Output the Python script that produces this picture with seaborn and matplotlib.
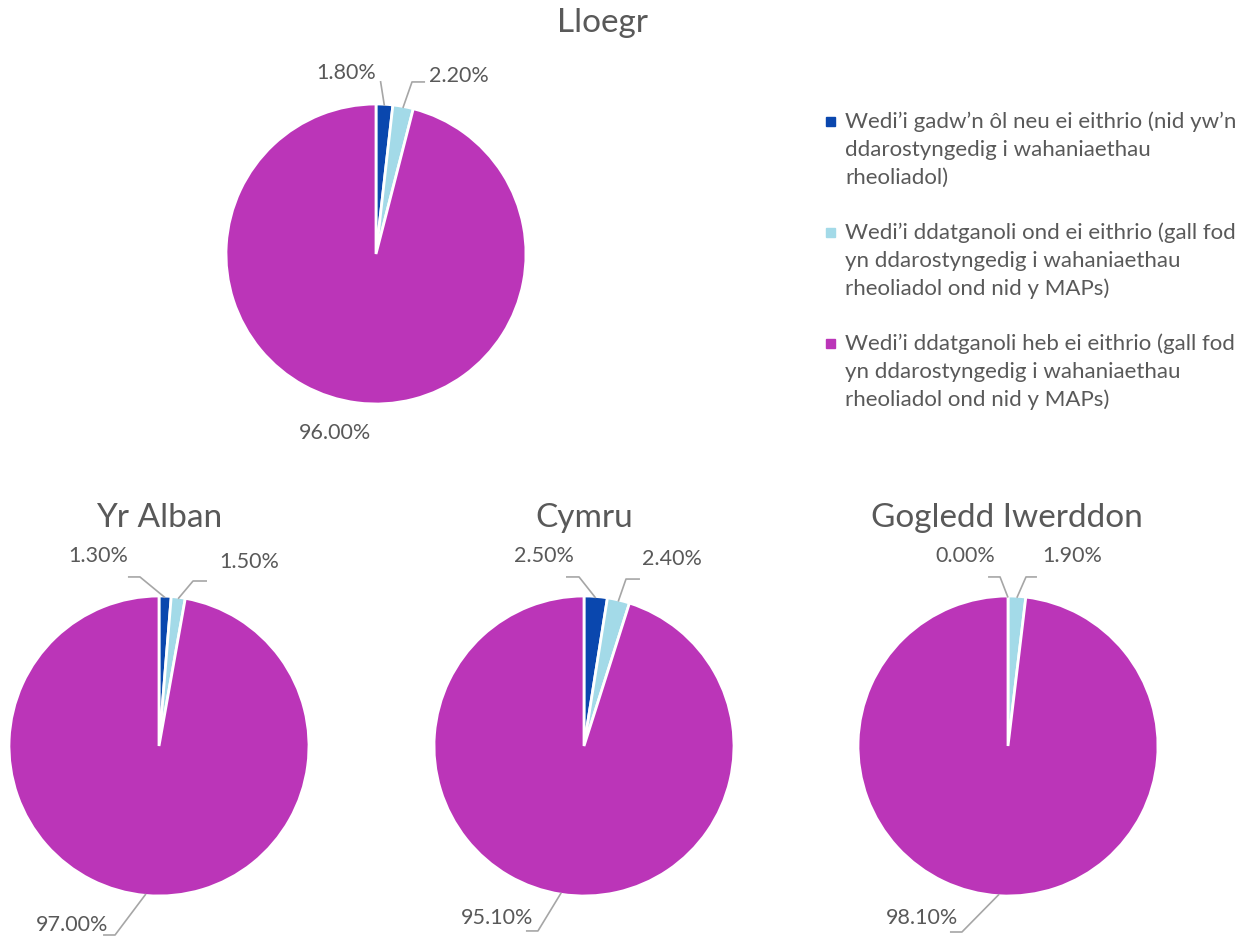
import numpy as np
import matplotlib
matplotlib.use("Agg")
import matplotlib.pyplot as plt
from matplotlib.patches import Rectangle
import seaborn as sns

# data
regions = ["Lloegr", "Yr Alban", "Cymru", "Gogledd Iwerddon"]
categories = [
    "Wedi’i gadw’n ôl neu ei eithrio (nid yw’n\nddarostyngedig i wahaniaethau\nrheoliadol)",
    "Wedi’i ddatganoli ond ei eithrio (gall fod\nyn ddarostyngedig i wahaniaethau\nrheoliadol ond nid y MAPs)",
    "Wedi’i ddatganoli heb ei eithrio (gall fod\nyn ddarostyngedig i wahaniaethau\nrheoliadol ond nid y MAPs)",
]
lloegr = [1.80, 2.20, 96.00]
yr_alban = [1.30, 1.50, 97.00]
cymru = [2.50, 2.40, 95.10]
gogledd_iwerddon = [0.00, 1.90, 98.10]
values = [lloegr, yr_alban, cymru, gogledd_iwerddon]

sns.set_style("white")
plt.rcParams["font.family"] = ["Lato", "DejaVu Sans"]
colors = sns.color_palette(["#0A47AE", "#A3DAE8", "#BB35B8"])
txt = "#595959"
line_c = "#A6A6A6"

fig = plt.figure(figsize=(12.51, 9.37), dpi=100)
W, H = 1251, 937

# pie centres (px), title centres (px)
centres = [(376, 255), (159, 747), (584, 747), (1008, 747)]
titles = [(603, 23), (159, 518), (584, 518), (1007, 518)]
R = 150
L = 1.5

# label text position, leader elbow, leader end (in pie radius units)
label_pos = [
    [(-0.20, 1.21), (0.553, 1.19), (-0.273, -1.187)],
    [(-0.407, 1.27), (0.60, 1.235), (-0.58, -1.187)],
    [(-0.267, 1.27), (0.587, 1.255), (-0.58, -1.14)],
    [(-0.287, 1.27), (0.427, 1.27), (-0.573, -1.14)],
]
leaders = [
    [[(0.03, 1.153), (0.03, 1.153)], [(0.24, 1.147), (0.327, 1.147)], None],
    [[(-0.127, 1.127), (-0.207, 1.127)], [(0.227, 1.10), (0.32, 1.10)], [(-0.293, -1.26), (-0.373, -1.26)]],
    [[(-0.033, 1.127), (-0.12, 1.127)], [(0.28, 1.113), (0.373, 1.113)], [(-0.307, -1.233), (-0.387, -1.233)]],
    [[(-0.053, 1.127), (-0.133, 1.127)], [(0.12, 1.127), (0.193, 1.127)], [(-0.307, -1.24), (-0.387, -1.24)]],
]

for i, (name, vals) in enumerate(zip(regions, values)):
    cx, cy = centres[i]
    half = R * L
    ax = fig.add_axes([(cx - half) / W, (H - cy - half) / H, 2 * half / W, 2 * half / H])
    ax.pie(vals, colors=colors, startangle=90, counterclock=False,
           wedgeprops=dict(edgecolor="white", linewidth=2))
    ax.set_xlim(-L, L)
    ax.set_ylim(-L, L)
    ax.set_aspect("equal")
    ax.axis("off")

    fr = np.array(vals) / sum(vals)
    before = np.concatenate([[0], np.cumsum(fr)[:-1]])
    for j, v in enumerate(vals):
        ang = np.deg2rad(90 - 360 * (before[j] + fr[j] / 2))
        sx, sy = np.cos(ang) * 0.99, np.sin(ang) * 0.99
        if leaders[i][j] is not None:
            (ex, ey), (tx, ty) = leaders[i][j]
            ax.plot([sx, ex, tx], [sy, ey, ty], color=line_c, lw=1.2,
                    clip_on=False, solid_capstyle="butt")
        lx, ly = label_pos[i][j]
        ax.text(lx, ly, f"{v:.2f}%", ha="center", va="center",
                fontsize=15.5, color=txt)

    fig.text(titles[i][0] / W, 1 - titles[i][1] / H, name, ha="center",
             va="center", fontsize=24, color=txt)

# legend
leg_y = [123, 234, 345]
for k, lab in enumerate(categories):
    y = leg_y[k]
    fig.patches.append(Rectangle((826 / W, 1 - (y + 4) / H), 9 / W, 9 / H,
                                 transform=fig.transFigure, color=colors[k]))
    fig.text(845 / W, 1 - (y - 12) / H, lab, ha="left", va="top",
             fontsize=16, color=txt, linespacing=1.5)

fig.savefig("out.png", dpi=100)
